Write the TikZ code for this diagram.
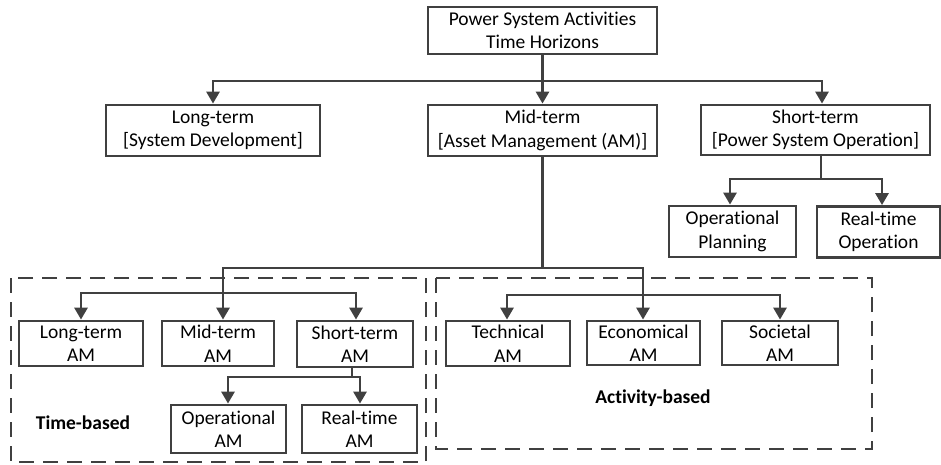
\documentclass[tikz,border=0pt]{standalone}
\usepackage{fontspec}
\setmainfont{Carlito}[Ligatures=NoCommon]
\usetikzlibrary{arrows.meta}
\definecolor{ln}{HTML}{404040}
\begin{document}
\begin{tikzpicture}[x=1pt,y=-1pt,
  box/.style={draw=ln, line width=2.8pt, align=center, inner sep=0pt, text=black,
    font=\fontsize{19.5}{23.5}\selectfont},
  conn/.style={draw=ln, line width=2.8pt},
  arr/.style={conn, -{Triangle[length=12pt,width=13pt]}},
  dbox/.style={draw=ln, line width=2.8pt, dash pattern=on 15pt off 9pt},
  lbl/.style={font=\fontsize{19.5}{23.5}\selectfont\bfseries, inner sep=0pt, text=black}]
\useasboundingbox (0,0) rectangle (941,464);

% dashed group frames
\draw[dbox] (11,278) rectangle (426,462);
\draw[dbox] (436,278) rectangle (872,449);

% top levels
\node[box, minimum width=229pt, minimum height=47pt] (top) at (542.5,30.5) {Power System Activities\\Time Horizons};
\node[box, minimum width=214pt, minimum height=51pt] (lt) at (213,130.5) {Long-term\\{[System Development]}};
\node[box, minimum width=229pt, minimum height=51pt] (mt) at (542.5,130.5) {Mid-term\\{[Asset Management (AM)]}};
\node[box, minimum width=229pt, minimum height=50pt] (st) at (815.5,130) {Short-term\\{[Power System Operation]}};
\node[box, minimum width=127pt, minimum height=51pt] (op) at (732.5,231.5) {Operational\\Planning};
\node[box, minimum width=123pt, minimum height=51pt] (rt) at (878.5,232) {Real-time\\Operation};

% AM level
\node[box, minimum width=124pt, minimum height=45pt] (ltam) at (81,343.5) {Long-term\\AM};
\node[box, minimum width=112pt, minimum height=45pt] (mtam) at (218,343.5) {Mid-term\\AM};
\node[box, minimum width=116pt, minimum height=46pt] (stam) at (355,344) {Short-term\\AM};
\node[box, minimum width=115pt, minimum height=48pt] (opam) at (228.5,429) {Operational\\AM};
\node[box, minimum width=115pt, minimum height=48pt] (rtam) at (359.5,429) {Real-time\\AM};
\node[box, minimum width=124pt, minimum height=45pt] (tech) at (508,343.5) {Technical\\AM};
\node[box, minimum width=113pt, minimum height=44pt] (econ) at (643.5,343) {Economical\\AM};
\node[box, minimum width=116pt, minimum height=44pt] (soc) at (780,343) {Societal\\AM};

\node[lbl] (tb) at (83,423) {Time-based};
\node[lbl] (ab) at (653,398) {Activity-based};

% connectors
\coordinate (j1) at (542.5,81);
\draw[conn] (top.south) -- (j1);
\draw[arr] (j1) -| (lt.north);
\draw[arr] (j1) -- (mt.north);
\draw[arr] (j1) -| ([xshift=6.5pt]st.north);

\coordinate (j2) at (821,179);
\draw[conn] ([xshift=5.5pt]st.south) -- (j2);
\draw[arr] (j2) -| ([xshift=-2.5pt]op.north);
\draw[arr] (j2) -| ([xshift=3.5pt]rt.north);

\coordinate (j3) at (542.5,268);
\draw[conn] (mt.south) -- (j3);
\draw[arr] (j3) -| ([xshift=5pt]mtam.north);
\draw[arr] (j3) -| ([xshift=-0.5pt]econ.north);

\coordinate (j4) at (223,293);
\draw[arr] (j4) -| (ltam.north);
\draw[arr] (j4) -| ([xshift=1pt]stam.north);

\coordinate (j5) at (643,295);
\draw[arr] (j5) -| ([xshift=-1pt]tech.north);
\draw[arr] (j5) -| (soc.north);

\coordinate (j6) at (352,377);
\draw[conn] ([xshift=-3pt]stam.south) -- (j6);
\draw[arr] (j6) -| ([xshift=-0.5pt]opam.north);
\draw[arr] (j6) -| ([xshift=0.5pt]rtam.north);
\end{tikzpicture}
\end{document}
